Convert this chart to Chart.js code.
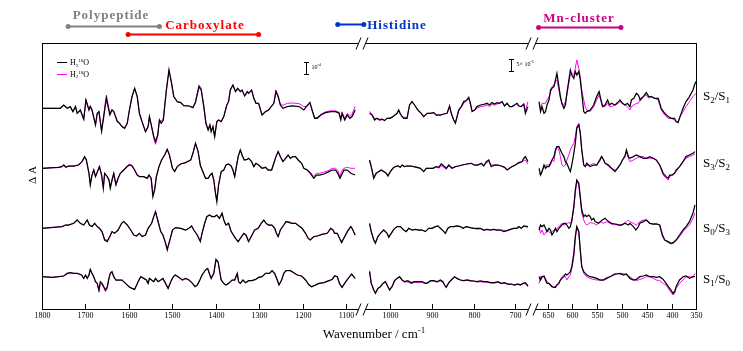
<!DOCTYPE html>
<html lang="en">
<head>
  <meta charset="UTF-8">
  <title>S-state FTIR difference spectra</title>
  <script src="https://cdn.jsdelivr.net/npm/chart.js"></script>
  <style>
    html, body { margin: 0; padding: 0; background: #fff; }
    canvas { display: block; }
  </style>
</head>
<body>
  <canvas id="spectra" width="743" height="351"></canvas>

  <script>
    // Wavenumber ticks for the three pieces of the broken axis
    const ticksSeg1 = [1800, 1700, 1600, 1500, 1400, 1300, 1200, 1100];
    const ticksSeg2 = [1000, 900, 800, 700];
    const ticksSeg3 = [650, 600, 550, 500, 450, 400, 350];

    const transitions = ['S2/S1', 'S3/S2', 'S0/S3', 'S1/S0'];

    // [wavenumber, dA] (12 units = scale bar)
    // ---- S2/S1 ----
    const s21_16_a = [[1800,0],[1758,0],[1750,3.3],[1742,0],[1735,1.7],[1729,-3.3],[1723,1.7],[1719,-5],[1712,-1.7],[1704,-11],[1699,8.3],[1692,-1.7],[1689,1.7],[1685,-1.7],[1677,-16.7],[1673,-5],[1669,-3.3],[1663,-23],[1658,-8.3],[1652,10],[1644,-6.7],[1639,-1.7],[1635,-3.3],[1627,-13.3],[1622,-15],[1616,-18.3],[1610,-20],[1604,-15],[1599,-1.7],[1593,11.7],[1587,20],[1581,11.7],[1576,-5],[1570,-13.3],[1562,-23.3],[1556,-18.3],[1553,-8.3],[1548,-18.3],[1543,-28.3],[1539,-33.3],[1534,-26.7],[1530,-11.7],[1526,-15],[1521,-11.7],[1514,18.3],[1508,38.3],[1502,25],[1497,11.7],[1489,6.7],[1481,5.7],[1474,2.7],[1462,2.3],[1453,0.7],[1447,6],[1439,21.7],[1434,18.3],[1428,1.7],[1423,-15],[1418,-21.7],[1414,-16.7],[1411,-23.3],[1407,-18.3],[1403,-28.3],[1398,-13.3],[1394,-11.7],[1388,-13.3],[1382,-8.3],[1375,3.3],[1371,6.7],[1367,18.3],[1361,23.3],[1355,16.7],[1350,20],[1344,16.7],[1340,18.3],[1334,12.3],[1328,16.7],[1325,15],[1318,18.3],[1313,10],[1308,5],[1302,5],[1294,-6.7],[1286,-3.3],[1279,-1.7],[1267,5],[1262,16.7],[1257,11.7],[1252,3.3],[1246,0],[1236,1.7],[1225,2.3],[1209,1.7],[1198,-1.7],[1192,1.7],[1184,5.7],[1179,-1.7],[1173,-10],[1167,-10],[1159,-6.7],[1148,-4.3],[1136,-3.3],[1125,-3.3],[1117,-5],[1113,-11.7],[1110,-5],[1104,-11.7],[1098,-6.7],[1092,-10],[1087,-8.3],[1080,-1.7]];
    const s21_18_a = [[1800,0],[1758,0],[1750,3.3],[1742,0],[1735,1.7],[1729,-3.3],[1723,1.7],[1719,-5],[1712,-1.7],[1704,-11],[1699,9],[1692,-1.7],[1689,2.5],[1685,-1.7],[1677,-16],[1673,-5],[1669,-3.3],[1663,-22],[1658,-6],[1652,13.3],[1644,-5],[1639,-1],[1635,-3.3],[1627,-12],[1622,-15],[1616,-18.3],[1610,-20],[1604,-15],[1599,-1.7],[1593,11.7],[1587,20],[1581,11.7],[1576,-5],[1570,-13.3],[1562,-23.3],[1556,-18.3],[1553,-8.3],[1548,-18.3],[1543,-30],[1539,-36],[1534,-28],[1530,-11.7],[1526,-13],[1521,-10],[1514,18.3],[1508,38.3],[1502,25],[1497,11.7],[1489,6.7],[1481,5.7],[1474,2.7],[1462,2.3],[1453,0.7],[1447,7],[1439,23.3],[1434,20],[1428,2.5],[1423,-15],[1418,-21.7],[1414,-16.7],[1411,-23.3],[1407,-18.3],[1403,-28.3],[1398,-13.3],[1394,-11.7],[1388,-13.3],[1382,-8.3],[1375,3.3],[1371,6.7],[1367,18.3],[1361,23.3],[1355,16.7],[1350,20],[1344,17],[1340,18.3],[1334,12.3],[1328,16.7],[1325,15],[1318,18.3],[1313,10],[1308,5],[1302,5],[1294,-6.7],[1286,-3.3],[1279,-1.7],[1267,5],[1262,18.3],[1257,12.5],[1252,4],[1246,3],[1236,5],[1225,5.3],[1209,4.7],[1198,1.7],[1192,2],[1184,5.7],[1179,-1.7],[1173,-10],[1167,-9],[1159,-6],[1148,-3.5],[1136,-2.5],[1125,-2.5],[1117,-4],[1113,-10],[1110,-4],[1104,-10],[1098,-5],[1092,-8],[1087,-6],[1080,2]];
    const s21_16_b = [[1050,-5],[1044,-6.7],[1038,-11.7],[1032,-10],[1026,-11.7],[1020,-11],[1014,-12.3],[1008,-10],[1000,-10],[992,-7.7],[984,-5],[980,-1.7],[976,-5.7],[972,-8.3],[968,-10],[960,-10],[954,3.3],[948,6.7],[942,3.3],[934,-1.7],[926,-5],[920,-8.3],[912,-5],[904,-5],[896,-4.3],[890,-6.7],[880,-6.7],[872,-5.7],[864,-5],[858,2.3],[854,-5],[848,-11.7],[844,-15],[840,-8.3],[836,-1.7],[830,1.7],[824,6.7],[818,7.7],[812,11],[808,5],[804,-3.3],[798,-1.7],[792,1.7],[784,3.3],[776,4],[768,5],[762,3.3],[756,5.7],[750,4.3],[744,5.7],[738,5],[732,6.7],[726,2.3],[720,5],[714,1.7],[708,1.7],[702,3.3],[696,5],[692,2.3],[686,1.7],[680,4.3],[676,-5],[670,1.7]];
    const s21_18_b = [[1050,-3],[1044,-6.7],[1038,-10],[1032,-10],[1026,-11],[1020,-10.5],[1014,-12],[1008,-10],[1000,-9.5],[992,-7.7],[984,-5],[980,-2.5],[976,-5.7],[972,-8],[968,-9],[960,-9],[954,3.3],[948,6.7],[942,3.3],[934,-1.7],[926,-5],[920,-8.3],[912,-5],[904,-5],[896,-4.3],[890,-6.7],[880,-6.7],[872,-5.7],[864,-5],[858,1.7],[854,-5],[848,-11.7],[844,-14],[840,-8.3],[836,-2.5],[830,1],[824,5],[818,7],[812,10],[808,4],[804,-2.5],[798,-2],[792,0],[784,1.7],[776,2],[768,3.3],[762,1.7],[756,4],[750,3],[744,4.3],[738,5],[732,6.7],[726,2.3],[720,5],[714,1.7],[708,1.7],[702,3.3],[696,5],[692,2.3],[686,1.7],[680,4.3],[676,-3],[670,6.7]];
    const s21_16_c = [[667,6.7],[664,-3.3],[661,1.7],[657,-5],[654,-3.3],[651,3.3],[647,8.3],[644,18.3],[641,20],[637,21.7],[634,28.3],[631,35],[627,21.7],[624,11.7],[621,5],[617,0],[614,3.3],[611,15],[607,28.3],[604,38.3],[601,33.3],[597,30],[594,36.7],[591,33.3],[587,36.7],[584,28.3],[581,15],[577,-3.3],[574,-5],[571,-3.3],[564,-1.7],[557,3.3],[551,11.7],[546,16.7],[543,10],[539,1.7],[534,3.3],[529,8.3],[525,3.3],[521,5],[514,3.3],[507,6.7],[504,8.3],[499,5],[494,3.3],[489,5],[484,1.7],[481,8.3],[476,10],[471,15],[467,13.3],[463,8.3],[457,11.7],[451,15.7],[446,11.7],[441,11.7],[434,10],[427,10],[421,0],[414,-5],[407,-8.3],[401,-10],[394,-10],[391,-13.3],[387,-14.3],[383,-8.3],[377,0],[371,6.7],[364,11.7],[357,18.3],[354,23.3],[351,26.7]];
    const s21_18_c = [[667,3.3],[664,0],[661,5],[657,5],[654,5],[651,8.3],[647,11.7],[644,15],[641,21.7],[637,23.3],[634,26.7],[631,28.3],[627,18.3],[624,10],[621,5],[617,3.3],[614,6.7],[611,13.3],[607,25],[604,33.3],[601,35],[597,33.3],[594,40],[591,48.3],[587,40],[584,31.7],[581,18.3],[577,8.3],[574,1.7],[571,-1.7],[564,-3.3],[557,1.7],[551,8.3],[546,13.3],[543,8.3],[539,1.7],[534,1.7],[529,5],[525,1.7],[521,1.7],[514,3.3],[507,5],[504,6.7],[499,5],[494,3.3],[489,1.7],[484,-1.7],[481,1.7],[476,3.3],[471,5],[467,5],[463,10],[457,11.7],[451,13.3],[446,10],[441,11.7],[434,10],[427,8.3],[421,-1.7],[414,-6.7],[407,-10],[401,-10],[394,-11.7],[391,-13.3],[387,-13.3],[383,-8.3],[377,-3.3],[371,1.7],[364,6.7],[357,11.7],[354,13.3],[351,15]];

    // ---- S3/S2 ----
    const s32_16_a = [[1800,0],[1762,1],[1754,1.7],[1750,3.3],[1745,1],[1739,2.3],[1727,2.3],[1716,3.3],[1708,6.7],[1702,11.7],[1698,8.3],[1692,-5],[1689,-16.7],[1685,-6.7],[1681,-1.7],[1677,-8.3],[1671,-1.7],[1668,1.7],[1663,-6.7],[1659,-20],[1656,-5],[1650,-8.3],[1646,-11.7],[1643,-20],[1639,-11.7],[1635,-5],[1630,-16.7],[1625,-10],[1620,-5],[1612,-1.7],[1604,1.7],[1599,3.3],[1593,2.3],[1587,-1.7],[1581,-6.7],[1576,-8.3],[1566,-8.3],[1558,-10],[1554,-6.7],[1549,-10],[1545,-28.3],[1541,-21.7],[1537,-8.3],[1531,1.7],[1525,8.3],[1518,13.3],[1512,19],[1507,13.3],[1500,0],[1495,-3.3],[1489,1.7],[1481,4.3],[1470,5.7],[1458,8.3],[1453,15],[1447,25],[1441,16.7],[1436,3],[1431,-2.5],[1424,-10],[1418,-10],[1413,-6.7],[1409,-5],[1405,-11.7],[1401,-25],[1398,-33.3],[1394,-16.7],[1388,-3.3],[1382,-1.7],[1377,3.3],[1371,4.3],[1365,2.3],[1361,-1.7],[1357,-8.3],[1353,1.7],[1349,11.7],[1344,18.3],[1340,13.3],[1335,8.3],[1328,9],[1325,10],[1318,6.7],[1313,1.7],[1308,5],[1302,3.3],[1294,0],[1286,1],[1280,-1.7],[1272,-1.7],[1267,5],[1262,11.7],[1257,16.7],[1252,11.7],[1246,6.7],[1240,10],[1234,13.3],[1229,10],[1223,11.7],[1217,11.7],[1211,8.3],[1203,5],[1198,0],[1190,-1.7],[1183,-5],[1175,-10],[1169,-6.7],[1162,-6.7],[1152,-5.7],[1140,-3.3],[1133,-1.7],[1125,-1.7],[1120,-5],[1115,-10],[1111,-6.7],[1106,-1.7],[1098,-1.7],[1090,-5],[1080,-6.7]];
    const s32_18_a = [[1800,0],[1762,1],[1754,1.7],[1750,3.3],[1745,1],[1739,2.3],[1727,2.3],[1716,3.3],[1708,6.7],[1702,11],[1698,8.3],[1692,-5],[1689,-15],[1685,-6.7],[1681,-1.7],[1677,-8.3],[1671,-1.7],[1668,1.7],[1663,-6.7],[1659,-19],[1656,-5],[1650,-8.3],[1646,-11.7],[1643,-19],[1639,-11.7],[1635,-5],[1630,-16],[1625,-10],[1620,-5],[1612,-1.7],[1604,2.5],[1599,4.3],[1593,3],[1587,-1.7],[1581,-6.7],[1576,-8.3],[1566,-8.3],[1558,-10],[1554,-6.7],[1549,-10],[1545,-27],[1541,-21],[1537,-8.3],[1531,1.7],[1525,8.3],[1518,13.3],[1512,19],[1507,13.3],[1500,0],[1495,-3.3],[1489,1.7],[1481,4.3],[1470,5.7],[1458,8.3],[1453,15],[1447,25],[1441,16.7],[1436,3],[1431,-2.5],[1424,-10],[1418,-10],[1413,-6.7],[1409,-5],[1405,-11.7],[1401,-25],[1398,-32],[1394,-16.7],[1388,-3.3],[1382,-1.7],[1377,3.3],[1371,4.3],[1365,2.3],[1361,-1.7],[1357,-8.3],[1353,1.7],[1349,11.7],[1344,18.3],[1340,13.3],[1335,8.3],[1328,9],[1325,10],[1318,6.7],[1313,1.7],[1308,5],[1302,3.3],[1294,0],[1286,1],[1280,-1.7],[1272,-1.7],[1267,5],[1262,11.7],[1257,16.7],[1252,11.7],[1246,6.7],[1240,10],[1234,13.3],[1229,10],[1223,11.7],[1217,11.7],[1211,8.3],[1203,5],[1198,0],[1190,-1.7],[1183,-4],[1175,-8.3],[1169,-5],[1162,-5],[1152,-4],[1140,-2],[1133,0],[1125,0],[1120,-2],[1115,-8],[1111,-3],[1106,0],[1098,1],[1090,0],[1080,0]];
    const s32_16_b = [[1050,8.3],[1046,1.7],[1040,-10],[1034,-5],[1028,-3.3],[1022,-1.7],[1016,-3.3],[1010,-5],[1006,-7.7],[1000,-3.3],[994,0],[988,1.7],[982,2.3],[976,1],[972,3.3],[966,1.7],[960,2.3],[952,2.3],[944,1.7],[936,1],[928,0],[920,-3.3],[914,0],[906,0],[898,0],[890,1.7],[884,1],[878,4.3],[872,2.3],[866,0],[860,3.3],[852,0],[844,1.7],[836,2.3],[828,3.3],[816,4.3],[806,5],[798,3.3],[790,3.3],[782,5],[776,2.3],[770,6.7],[764,8.3],[758,1.7],[750,3.3],[742,3.3],[734,2.3],[726,1],[720,-1.7],[714,0],[708,1.7],[700,3.3],[692,5.7],[684,6.7],[680,10],[676,11.7],[670,6.7]];
    const s32_18_b = [[1050,7],[1046,1.7],[1040,-9],[1034,-5],[1028,-3.3],[1022,-1.7],[1016,-3.3],[1010,-5],[1006,-7],[1000,-3.3],[994,0],[988,1.7],[982,2.3],[976,1],[972,3.3],[966,1.7],[960,2.3],[952,2.3],[944,1.7],[936,1],[928,0],[920,-3.3],[914,0],[906,0],[898,0],[890,1.7],[884,0],[878,2.3],[872,1],[866,-1],[860,2.5],[852,0],[844,1.7],[836,2.3],[828,3.3],[816,4.3],[806,5],[798,3.3],[790,3.3],[782,5],[776,3],[770,5],[764,6.7],[758,3.3],[750,3.3],[742,3.3],[734,2.3],[726,1],[720,-1.7],[714,0],[708,1.7],[700,3.3],[692,5],[684,6],[680,8],[676,8.3],[670,4.3]];
    const s32_16_c = [[667,0],[664,-6.7],[661,-3.3],[657,3.3],[654,0],[651,1.7],[647,1.7],[644,5],[641,8.3],[637,11.7],[634,18.3],[631,21.7],[627,21.7],[624,18.3],[621,15],[617,11.7],[614,6.7],[611,5],[607,0],[604,-3.3],[601,3.3],[597,15],[594,25],[591,40],[587,43.3],[584,35],[581,18.3],[577,3.3],[574,1.7],[571,5],[567,3.3],[564,1.7],[557,3.3],[551,3.3],[544,8.3],[541,11.7],[537,8.3],[534,5],[527,3.3],[521,0],[514,-3.3],[509,0],[504,3.3],[499,8.3],[494,11.7],[491,18.3],[487,11.7],[484,10],[477,11.7],[471,13.3],[464,11.7],[457,10],[451,10],[444,11.7],[437,10],[431,8.3],[424,3.3],[417,-5],[411,-8.3],[407,-10],[404,-6.7],[399,-6.7],[394,-5],[391,-1.7],[384,1.7],[377,6.7],[371,11.7],[364,13.3],[357,15],[353,16.7]];
    const s32_18_c = [[667,-5],[664,-6.7],[661,-3.3],[657,1.7],[651,3.3],[644,3.3],[641,8.3],[637,6.7],[634,16.7],[631,21.7],[627,18.3],[624,11.7],[621,3.3],[617,1.7],[614,3.3],[611,8.3],[607,13.3],[604,18.3],[601,21.7],[597,25],[594,31.7],[591,41.7],[587,45],[584,36.7],[581,18.3],[577,3.3],[574,1.7],[571,3.3],[567,2.3],[564,3.3],[557,5],[551,3.3],[544,10],[541,12.3],[537,9],[534,5],[527,1.7],[521,0],[514,-1.7],[509,0],[504,3.3],[499,8.3],[494,13.3],[491,16.7],[487,10],[484,6.7],[477,8.3],[471,10],[464,11.7],[457,11.7],[451,10],[444,10],[437,10],[431,8.3],[424,3.3],[417,-6.7],[411,-10],[407,-11.7],[404,-8.3],[399,-6.7],[394,-5],[391,-3.3],[384,1.7],[377,6.7],[371,10],[364,11.7],[357,13.3],[353,14.3]];

    // ---- S0/S3 ----
    const s03_16_a = [[1800,0],[1754,1.7],[1746,3.3],[1739,3.3],[1727,5],[1719,8.3],[1712,5],[1704,3.3],[1696,8.3],[1691,3.3],[1685,1.7],[1679,5],[1673,1.7],[1668,0],[1662,-3.3],[1656,-11.7],[1650,-13.3],[1644,-8.3],[1639,-3.3],[1633,-5],[1625,-1.7],[1617,5],[1612,6.7],[1604,3.3],[1596,-1.7],[1589,-6.7],[1583,-7.7],[1576,-5],[1570,-8.3],[1562,-6.7],[1556,0],[1548,5],[1543,11.7],[1539,16.7],[1534,8.3],[1527,-3.3],[1522,-6.7],[1517,-13.3],[1512,-21.7],[1507,-13.3],[1500,-1.7],[1493,0.7],[1481,0],[1470,-1.7],[1462,0],[1456,2.3],[1451,-1.7],[1443,-6.7],[1436,-13.3],[1432,-5],[1426,5],[1421,11.7],[1415,13.3],[1409,11.7],[1403,11.7],[1398,13.3],[1392,10],[1386,15],[1382,8.3],[1377,3.3],[1371,5],[1365,-3.3],[1355,-10],[1349,-13.3],[1344,-10],[1336,-5],[1331,-6.7],[1325,-13.3],[1317,-6.7],[1311,-1.7],[1303,0],[1296,5],[1290,8.3],[1285,5],[1279,3.3],[1271,3.3],[1265,0],[1261,-5],[1257,-8.3],[1252,-1.7],[1244,3.3],[1239,6.7],[1231,5.7],[1225,5],[1217,5],[1209,2.3],[1202,0],[1194,-5],[1188,-10],[1183,-11.7],[1175,-8.3],[1167,-7.7],[1156,-6],[1144,-5],[1136,0],[1131,-1.7],[1127,-5],[1121,-5],[1116,-10],[1111,-14.3],[1106,-10],[1098,-3.3],[1090,1.7],[1087,0],[1080,-6.7]];
    const s03_18_a = [[1800,0],[1754,1.7],[1746,3.3],[1739,3.3],[1727,5],[1719,8.3],[1712,5],[1704,3.3],[1696,8.3],[1691,3.3],[1685,1.7],[1679,5],[1673,1.7],[1668,0],[1662,-3.3],[1656,-11],[1650,-12],[1644,-8.3],[1639,-3.3],[1633,-5],[1625,-1.7],[1617,5],[1612,6.7],[1604,3.3],[1596,-1.7],[1589,-6.7],[1583,-7.7],[1576,-5],[1570,-8.3],[1562,-6.7],[1556,0],[1548,5],[1543,11.7],[1539,16.7],[1534,8.3],[1527,-3.3],[1522,-6.7],[1517,-13.3],[1512,-20],[1507,-13.3],[1500,-1.7],[1493,0.7],[1481,0],[1470,-1.7],[1462,0],[1456,2.3],[1451,-1.7],[1443,-6.7],[1436,-12.5],[1432,-5],[1426,5],[1421,11.7],[1415,13.3],[1409,11.7],[1403,11.7],[1398,13.3],[1392,10],[1386,15],[1382,8.3],[1377,3.3],[1371,5],[1365,-3.3],[1355,-10],[1349,-13.3],[1344,-10],[1336,-5],[1331,-6.7],[1325,-13.3],[1317,-6.7],[1311,-1.7],[1303,0],[1296,5],[1290,8.3],[1285,5],[1279,3.3],[1271,3.3],[1265,0],[1261,-5],[1257,-8.3],[1252,-1.7],[1244,3.3],[1239,6.7],[1231,6.5],[1225,5],[1217,5],[1209,2.3],[1202,0],[1194,-5],[1188,-10],[1183,-11.7],[1175,-8.3],[1167,-7.7],[1156,-6],[1144,-5],[1136,0],[1131,-1.7],[1127,-5],[1121,-5],[1116,-10],[1111,-13],[1106,-10],[1098,-3.3],[1090,1.7],[1087,0],[1080,-6.7]];
    const s03_16_b = [[1050,5],[1046,-3.3],[1040,-11.7],[1036,-15],[1030,-8.3],[1024,-5],[1016,-1.7],[1008,-5],[1004,-9],[998,-5],[992,-1],[984,1.7],[976,1.7],[968,-1.7],[962,-3.3],[956,0],[948,-1.7],[940,-1],[932,-1.7],[924,-1.7],[916,-3.3],[908,0],[900,0],[892,1.7],[886,2.3],[880,0],[874,-2.3],[868,-5],[862,0],[856,1.7],[848,1.7],[840,2.3],[832,1.7],[826,0],[818,1.7],[808,0.7],[800,0],[792,0],[784,0],[776,-1.7],[768,-1],[760,-1.7],[752,-1],[744,-1.7],[736,-1.7],[728,-3.3],[720,-2.3],[712,-1],[704,0],[696,0],[692,1.7],[686,0],[680,2.3],[670,1.7]];
    const s03_18_b = [[1050,4],[1046,-3.3],[1040,-11],[1036,-14],[1030,-8.3],[1024,-5],[1016,-1.7],[1008,-5],[1004,-8],[998,-5],[992,-1],[984,1.7],[976,1.7],[968,-1.7],[962,-3.3],[956,0],[948,-1.7],[940,-1],[932,-1.7],[924,-1.7],[916,-3.3],[908,0],[900,0],[892,1.7],[886,2.3],[880,0],[874,-2.3],[868,-5],[862,0],[856,1.7],[848,1.7],[840,2.3],[832,1.7],[826,0],[818,1.7],[808,0.7],[800,0],[792,-1],[784,-0.5],[776,-2.3],[768,-1],[760,-1.7],[752,-1],[744,-1.7],[736,-1.7],[728,-2],[720,-2.3],[712,-1],[704,0],[696,0],[692,1.7],[686,0],[680,2],[670,1]];
    const s03_16_c = [[667,-1.7],[664,3.3],[661,1.7],[657,3.3],[654,0],[651,-3.3],[647,0],[644,-1.7],[641,-6.7],[637,-3.3],[634,0],[631,-3.3],[627,0],[624,1.7],[621,3.3],[617,5],[614,5],[611,3.3],[607,0],[604,1.7],[601,8.3],[597,21.7],[594,38.3],[591,48.3],[587,45],[584,31.7],[581,18.3],[577,11.7],[574,13.3],[571,11.7],[567,13.3],[564,11.7],[561,8.3],[557,10],[554,6.7],[547,5],[541,7.7],[534,10],[527,6.7],[521,5],[514,4.3],[507,3.3],[501,3.3],[494,5],[487,3.3],[484,5],[477,1.7],[472,-1.7],[467,1.7],[464,5],[457,6.7],[451,8.3],[444,5],[437,4.3],[431,4.3],[424,3.3],[419,-6.7],[414,-11.7],[407,-13.3],[401,-15],[397,-14.3],[391,-11.7],[384,-6.7],[377,-1.7],[371,1.7],[364,6.7],[357,15],[353,23.3]];
    const s03_18_c = [[667,1.7],[664,-5],[661,-1.7],[657,-6.7],[654,-5],[651,-1.7],[647,-3.3],[644,-5],[641,-3.3],[637,-1.7],[634,-1.7],[631,0],[627,1.7],[624,3.3],[621,5],[617,3.3],[611,5],[607,5.7],[604,5],[601,6.7],[597,20],[594,35],[591,46.7],[587,43.3],[584,30],[581,15],[577,8.3],[574,5],[571,3.3],[564,5.7],[557,5],[551,3.3],[544,6.7],[537,5],[531,6.7],[524,5],[517,3.3],[511,4.3],[504,3.3],[497,4.3],[491,6.7],[487,8.3],[484,6.7],[477,5],[471,3.3],[464,6.7],[457,8.3],[451,8.3],[444,5],[437,4.3],[431,5],[424,3.3],[419,-5],[414,-11.7],[407,-14.3],[401,-15.7],[397,-15],[391,-12.3],[384,-8.3],[377,-3.3],[371,0],[364,3.3],[357,10],[353,15]];

    // ---- S1/S0 ----
    const s10_16_a = [[1800,0],[1777,-0.7],[1762,0],[1750,0.7],[1742,3.3],[1735,4],[1727,3.3],[1719,3.3],[1709,1.7],[1704,-1.7],[1700,1.7],[1696,-1.7],[1692,1.7],[1689,7.3],[1685,3.3],[1681,0],[1677,-5],[1673,-6.7],[1669,-13.3],[1666,-5],[1662,-6.7],[1658,-10],[1654,-13.3],[1650,-10],[1646,-1.7],[1643,3.3],[1639,5],[1635,0],[1630,-3.3],[1623,-3.3],[1616,-3.3],[1608,-6.7],[1600,-10],[1593,-11.7],[1587,-12.7],[1579,-5],[1573,0],[1566,-1.7],[1560,-3.3],[1556,-6.7],[1553,-1.7],[1548,-3.3],[1543,-5],[1539,-1.7],[1533,-5],[1527,-3.3],[1522,-1.7],[1516,-6.7],[1510,-11.7],[1504,-5],[1498,0],[1493,1.7],[1485,-0.7],[1477,-3.3],[1470,-1.7],[1462,-3.3],[1454,-6.7],[1448,-10],[1443,-8.3],[1437,-3.3],[1432,1.7],[1424,6.7],[1419,8.3],[1414,1.7],[1411,-1.7],[1405,3.3],[1400,17.3],[1395,15],[1392,6.7],[1388,-3.3],[1382,-6.7],[1377,-8.3],[1371,-6.7],[1363,-3.3],[1357,-3.3],[1351,3.3],[1348,-5],[1344,-6.7],[1338,-3.3],[1332,-6],[1325,-4],[1317,-4],[1309,-2.7],[1302,-0.7],[1294,0],[1286,3.3],[1277,3.3],[1271,6],[1265,3.3],[1259,-3.3],[1255,-8.3],[1249,-3.3],[1244,3.3],[1239,6],[1229,6],[1221,4],[1213,1.7],[1203,0.7],[1194,-3.3],[1186,-8.3],[1180,-10],[1173,-8.7],[1163,-6.7],[1152,-6],[1140,-4],[1133,-2.7],[1127,0.7],[1121,0],[1116,-6.7],[1110,-10.7],[1103,-6],[1096,-1.7],[1088,2.7],[1080,-1.7]];
    const s10_18_a = [[1800,0],[1777,-0.7],[1762,0],[1750,0.7],[1742,3.3],[1735,4],[1727,3.3],[1719,3.3],[1709,1.7],[1704,-1.7],[1700,1.7],[1696,-1.7],[1692,1.7],[1689,7.3],[1685,3.3],[1681,0],[1677,-5],[1673,-7],[1669,-15],[1666,-7],[1662,-7.5],[1658,-11],[1654,-15],[1650,-12],[1646,-1.7],[1643,3.3],[1639,5],[1635,0],[1630,-3.3],[1623,-3.3],[1616,-3.3],[1608,-6.7],[1600,-10],[1593,-11.7],[1587,-12.7],[1579,-5],[1573,0],[1566,-1.7],[1560,-3.3],[1556,-6.7],[1553,-1.7],[1548,-3.3],[1543,-5],[1539,-1.7],[1533,-5],[1527,-3.3],[1522,-1.7],[1516,-6.7],[1510,-11.7],[1504,-5],[1498,0],[1493,1.7],[1485,-0.7],[1477,-3.3],[1470,-1.7],[1462,-3.3],[1454,-6.7],[1448,-10],[1443,-8.3],[1437,-3.3],[1432,1.7],[1424,6.7],[1419,8.3],[1414,1.7],[1411,-1.7],[1405,3.3],[1400,16],[1395,14],[1392,6.7],[1388,-3.3],[1382,-6.7],[1377,-8.3],[1371,-6.7],[1363,-3.3],[1357,-3.3],[1351,3.3],[1348,-5],[1344,-6.7],[1338,-3.3],[1332,-6],[1325,-4],[1317,-4],[1309,-2.7],[1302,-0.7],[1294,0],[1286,3.3],[1277,3.3],[1271,6],[1265,3.3],[1259,-3.3],[1255,-8.3],[1249,-3.3],[1244,3.3],[1239,6],[1229,6.5],[1221,4],[1213,1.7],[1203,0.7],[1194,-3.3],[1186,-8.3],[1180,-10],[1173,-8.7],[1163,-6.7],[1152,-6],[1140,-4],[1133,-2.7],[1127,1.5],[1121,0],[1116,-6.7],[1110,-10.7],[1103,-6],[1096,-1.7],[1088,2.7],[1080,-1.7]];
    const s10_16_b = [[1050,5],[1046,-6.7],[1040,-13.3],[1036,-16.7],[1030,-11.7],[1024,-10],[1018,-6.7],[1012,-5],[1006,-10],[1002,-13.3],[996,-10],[990,-4],[984,-1.7],[978,0],[972,-3.3],[966,-5],[958,-4],[950,-6],[942,-5],[932,-5],[924,-5],[916,-6.7],[910,-6],[904,-4],[896,-4],[888,-5],[880,-3.3],[874,-5],[870,-8.3],[866,-10.7],[860,-6],[854,-3.3],[846,0],[840,-1.7],[832,-3.3],[824,-4],[816,-3.3],[808,-4],[800,-4.3],[792,-5],[784,-4.3],[776,-5],[768,-5],[760,-6],[750,-6],[742,-5],[734,-6.7],[726,-6],[718,-7.3],[710,-7.3],[702,-8.3],[694,-7.3],[688,-8.3],[682,-6.7],[676,-6],[670,-9.3]];
    const s10_18_b = [[1050,6],[1046,-6],[1040,-13],[1036,-16],[1030,-11.7],[1024,-10],[1018,-6.7],[1012,-5],[1006,-10],[1002,-12.5],[996,-10],[990,-4],[984,-1.7],[978,0],[972,-3.3],[966,-5],[958,-5.3],[950,-7],[942,-5.7],[932,-6],[924,-5.5],[916,-7],[910,-6.5],[904,-4.5],[896,-4.5],[888,-5.5],[880,-4.3],[874,-5.5],[870,-8.3],[866,-10.7],[860,-6.5],[854,-3.5],[846,0],[840,-2],[832,-3.3],[824,-4],[816,-3.7],[808,-4.5],[800,-4.5],[792,-5.3],[784,-5],[776,-5.5],[768,-5.5],[760,-6.3],[750,-6.3],[742,-5.5],[734,-7],[726,-6.5],[718,-7.5],[710,-7.7],[702,-8.3],[694,-7.7],[688,-8.3],[682,-7],[676,-7],[670,-10]];
    const s10_16_c = [[667,0],[664,-3.3],[661,0],[657,0.7],[654,-3.3],[651,-6.7],[647,-6.7],[644,-8.3],[641,-10],[637,-10.7],[634,-10.7],[631,-8.3],[627,-6.7],[624,-3.3],[621,-1.7],[617,0],[614,2.7],[611,1.7],[607,3.3],[604,5],[601,10],[597,23.3],[594,40],[591,50],[587,45],[584,26.7],[581,10],[577,5],[574,3.3],[571,1.7],[564,0],[557,-0.7],[551,-1.7],[544,-3.3],[537,-3.3],[531,-1.7],[524,0],[517,1.7],[511,2.7],[504,3.3],[497,1.7],[491,2.7],[484,-1.7],[477,-3.3],[471,-2.7],[464,0],[457,0.7],[451,1.7],[444,0],[437,0],[431,-0.7],[424,0],[417,-2.7],[411,-6.7],[404,-11.7],[397,-16.7],[394,-15],[391,-10],[384,-3.3],[377,0],[371,0.7],[364,-1.7],[357,0],[353,0]];
    const s10_18_c = [[667,-6.7],[664,0.7],[661,-0.7],[657,0],[654,-1.7],[651,-5],[644,-8.3],[637,-10.7],[631,-8.3],[624,-3.3],[621,0],[617,1.7],[614,0],[611,-3.3],[607,0],[604,1.7],[601,8.3],[597,20],[594,38.3],[591,50],[587,45],[584,26.7],[581,10],[577,3.3],[571,0],[564,-1.7],[557,-2.7],[551,-3.3],[544,-3.3],[537,-2.7],[531,-1],[524,0],[517,2.7],[511,3.3],[504,2.7],[497,3.3],[491,1.7],[484,0],[477,-2.7],[471,-4],[464,-2.7],[457,-1.7],[451,0],[444,0],[437,-1.7],[431,-3.3],[424,-4],[417,-6.7],[411,-8.3],[404,-14],[397,-18.3],[394,-16.7],[391,-11.7],[384,-6.7],[377,-3.3],[371,0],[364,0],[357,-0.7],[353,3.3]];

    // Layout: vertical offset of each difference spectrum (y units = px)
    const traceOffsets = [200.7, 140.7, 80.7, 32.3];

    // Broken axis: wavenumber -> position on a 0..655 virtual axis
    const segMap = [
      w => (1800 - w) * 0.4349,
      w => 348.4 + (1000 - w) * 0.4167,
      w => 505.5 + (650 - w) * 0.4965
    ];

    const spectra16 = [
      [s21_16_a, s21_16_b, s21_16_c],
      [s32_16_a, s32_16_b, s32_16_c],
      [s03_16_a, s03_16_b, s03_16_c],
      [s10_16_a, s10_16_b, s10_16_c]
    ];
    const spectra18 = [
      [s21_18_a, s21_18_b, s21_18_c],
      [s32_18_a, s32_18_b, s32_18_c],
      [s03_18_a, s03_18_b, s03_18_c],
      [s10_18_a, s10_18_b, s10_18_c]
    ];

    function toPoints(segs, offset) {
      const pts = [];
      segs.forEach((seg, i) => {
        if (i > 0) pts.push({ x: segMap[i](seg[0][0]) - 1, y: null });
        seg.forEach(p => pts.push({ x: segMap[i](p[0]), y: p[1] + offset }));
      });
      return pts;
    }

    // black (H2 16O) first so it is drawn on top of the magenta traces
    const datasets = [];
    spectra16.forEach((segs, i) => datasets.push({
      label: 'H2 16O ' + transitions[i], data: toPoints(segs, traceOffsets[i]),
      borderColor: '#000000', borderWidth: 1.25, pointRadius: 0, tension: 0
    }));
    spectra18.forEach((segs, i) => datasets.push({
      label: 'H2 18O ' + transitions[i], data: toPoints(segs, traceOffsets[i]),
      borderColor: '#ff00ff', borderWidth: 1, pointRadius: 0, tension: 0
    }));

    const serif = '"Liberation Serif", "Times New Roman", serif';

    // parts: [text, fontSize, dy, bold]
    function richText(ctx, parts, x, y, align) {
      let w = 0;
      parts.forEach(p => {
        ctx.font = (p[3] ? 'bold ' : '') + p[1] + 'px ' + serif;
        w += ctx.measureText(p[0]).width;
      });
      let cx = align === 'center' ? x - w / 2 : x;
      ctx.textAlign = 'left';
      parts.forEach(p => {
        ctx.font = (p[3] ? 'bold ' : '') + p[1] + 'px ' + serif;
        ctx.fillText(p[0], cx, y + (p[2] || 0));
        cx += ctx.measureText(p[0]).width;
      });
    }

    const decor = {
      id: 'decor',
      afterDraw(chart) {
        const ctx = chart.ctx;
        const xs = chart.scales.x;
        const a = chart.chartArea;
        const L = a.left, R = a.right, T = a.top, B = a.bottom;
        const breaks = [L + 320, L + 490];
        ctx.save();
        ctx.strokeStyle = '#000';
        ctx.fillStyle = '#000';
        ctx.lineWidth = 1;

        // frame with the axis breaks
        ctx.beginPath();
        ctx.moveTo(L + 0.5, T); ctx.lineTo(L + 0.5, B + 0.5);
        ctx.moveTo(R - 0.5, T); ctx.lineTo(R - 0.5, B + 0.5);
        [T + 0.5, B + 0.5].forEach(y => {
          ctx.moveTo(L, y); ctx.lineTo(breaks[0] - 3.5, y);
          ctx.moveTo(breaks[0] + 3.5, y); ctx.lineTo(breaks[1] - 3.5, y);
          ctx.moveTo(breaks[1] + 3.5, y); ctx.lineTo(R, y);
          breaks.forEach(c => {
            [c - 3.5, c + 3.5].forEach(s => {
              ctx.moveTo(s - 2.5, y + 6); ctx.lineTo(s + 2.5, y - 6);
            });
          });
        });
        ctx.stroke();

        // ticks and tick labels
        ctx.font = '8px ' + serif;
        ctx.textAlign = 'center';
        ctx.textBaseline = 'top';
        [ticksSeg1, ticksSeg2, ticksSeg3].forEach((ticks, i) => {
          ticks.forEach(t => {
            const px = Math.round(xs.getPixelForValue(segMap[i](t))) + 0.5;
            ctx.beginPath();
            ctx.moveTo(px, B); ctx.lineTo(px, B - 5);
            ctx.stroke();
            ctx.fillText(String(t), px, B + 3);
          });
        });
        ctx.textBaseline = 'alphabetic';

        // axis titles
        richText(ctx, [['Wavenumber / cm', 13], ['-1', 9, -5]], L + 332, 338, 'center');
        ctx.save();
        ctx.translate(36, 175);
        ctx.rotate(-Math.PI / 2);
        ctx.font = '11px ' + serif;
        ctx.textAlign = 'center';
        ctx.fillText('\u0394 A', 0, 0);
        ctx.restore();

        // transition labels on the right
        const labelBase = [100, 167, 232, 283];
        const subs = [['2', '1'], ['3', '2'], ['0', '3'], ['1', '0']];
        subs.forEach((s, i) => {
          richText(ctx, [['S', 13], [s[0], 9, 3], ['/', 13], ['S', 13], [s[1], 9, 3]], 703, labelBase[i]);
        });

        // legend
        [['#000000', '16', 65, 62.5], ['#ff00ff', '18', 76.5, 74.5]].forEach(l => {
          ctx.strokeStyle = l[0];
          ctx.beginPath(); ctx.moveTo(57, l[3]); ctx.lineTo(67, l[3]); ctx.stroke();
          ctx.fillStyle = '#000';
          richText(ctx, [['H', 8], ['2', 5, 1.5], [l[1], 5, -3], ['O', 8]], 70, l[2]);
        });

        // scale bars
        ctx.strokeStyle = '#000';
        [[306.5, 62, 75, [['10', 6], ['-4', 4, -3]]], [511.5, 59, 72, [['5\u00d7 10', 6], ['-5', 4, -3]]]].forEach(b => {
          ctx.beginPath();
          ctx.moveTo(b[0], b[1]); ctx.lineTo(b[0], b[2]);
          ctx.moveTo(b[0] - 2.5, b[1] + 0.5); ctx.lineTo(b[0] + 2.5, b[1] + 0.5);
          ctx.moveTo(b[0] - 2.5, b[2] - 0.5); ctx.lineTo(b[0] + 2.5, b[2] - 0.5);
          ctx.stroke();
          richText(ctx, b[3], b[0] + 5, b[1] + 7);
        });

        // band assignments above the frame
        const bands = [
          { text: 'Polypeptide', color: '#808080', seg: 0, from: 1740, to: 1530, ly: 26.5, tx: 111, ty: 19 },
          { text: 'Carboxylate', color: '#ff0000', seg: 0, from: 1602, to: 1302, ly: 34.5, tx: 205, ty: 29 },
          { text: 'Histidine', color: '#0033cc', seg: 0, from: 1120, to: 1060, ly: 24.5, tx: 397, ty: 29 },
          { text: 'Mn-cluster', color: '#cc0088', seg: 2, from: 668, to: 502, ly: 27.5, tx: 579, ty: 21.5 }
        ];
        ctx.letterSpacing = '1px';
        bands.forEach(bd => {
          const x1 = xs.getPixelForValue(segMap[bd.seg](bd.from));
          const x2 = xs.getPixelForValue(segMap[bd.seg](bd.to));
          ctx.strokeStyle = bd.color;
          ctx.fillStyle = bd.color;
          ctx.lineWidth = 2;
          ctx.beginPath(); ctx.moveTo(x1, bd.ly); ctx.lineTo(x2, bd.ly); ctx.stroke();
          [x1, x2].forEach(x => {
            ctx.beginPath(); ctx.arc(x, bd.ly, 2.5, 0, Math.PI * 2); ctx.fill();
          });
          ctx.font = 'bold 13px ' + serif;
          ctx.textAlign = 'center';
          ctx.fillText(bd.text, bd.tx, bd.ty);
        });
        ctx.restore();
      }
    };

    const ctx = document.getElementById('spectra').getContext('2d');
    new Chart(ctx, {
      type: 'line',
      data: { datasets: datasets },
      options: {
        responsive: false,
        animation: false,
        events: [],
        layout: { padding: { left: 42, right: 46, top: 43, bottom: 42 } },
        scales: {
          x: { type: 'linear', min: 0, max: 655, display: false },
          y: { type: 'linear', min: 0, max: 266, display: false }
        },
        plugins: {
          legend: { display: false },
          tooltip: { enabled: false }
        }
      },
      plugins: [decor]
    });
  </script>
</body>
</html>
